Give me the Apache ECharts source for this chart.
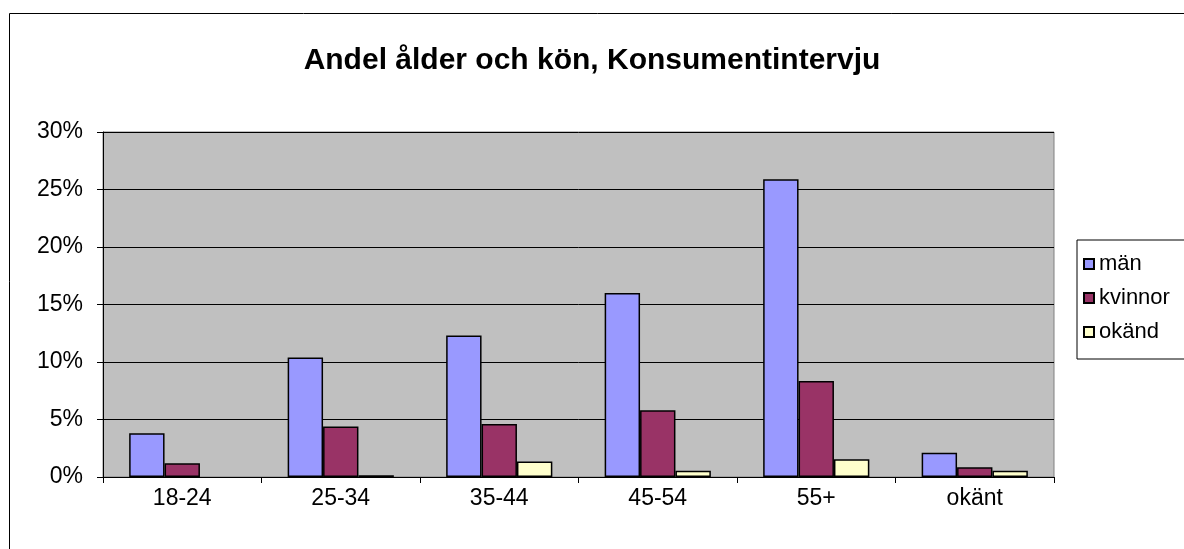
<!DOCTYPE html>
<html>
<head>
<meta charset="utf-8">
<script src="https://cdn.jsdelivr.net/npm/echarts@6/dist/echarts.min.js"></script>
<style>
  html, body { margin: 0; padding: 0; background: #fff; }
  #main { width: 1184px; height: 549px; }
</style>
</head>
<body>
<div id="main"></div>
<script>
var categories = ['18-24', '25-34', '35-44', '45-54', '55+', 'okänt'];
var man = [3.8, 10.4, 12.3, 16.0, 25.9, 2.1];
var kvinnor = [1.2, 4.4, 4.6, 5.8, 8.35, 0.85];
var okand = [0, 0.15, 1.35, 0.55, 1.55, 0.55];
var seriesNames = ['män', 'kvinnor', 'okänd'];

var chart = echarts.init(document.getElementById('main'));

function bar(name, data, color) {
  return {
    name: name,
    type: 'bar',
    // a zero value draws no bar at all in the original
    data: data.map(function (v) { return v === 0 ? '-' : v; }),
    barGap: '0%',
    barCategoryGap: '33%',
    itemStyle: { color: color, borderColor: '#000', borderWidth: 1.5 },
    emphasis: { disabled: true }
  };
}

var option = {
  animation: false,
  textStyle: { fontFamily: 'Liberation Sans, Arial, sans-serif' },
  title: {
    text: 'Andel ålder och kön, Konsumentintervju',
    left: 'center',
    top: 41,
    textStyle: { fontSize: 30, fontWeight: 'bold', color: '#000' }
  },
  graphic: [{
    type: 'rect',
    shape: { x: 9.5, y: 13.5, width: 1400, height: 800 },
    style: { fill: null, stroke: '#000', lineWidth: 1 },
    silent: true
  }],
  legend: {
    orient: 'vertical',
    left: 1077,
    top: 240,
    width: 200,
    padding: [13, 40, 16, 6],
    itemGap: 12,
    itemWidth: 10,
    itemHeight: 10,
    borderColor: '#000',
    borderWidth: 1,
    icon: 'rect',
    data: seriesNames,
    textStyle: { fontSize: 22, color: '#000', padding: [0, 0, 0, 0] },
    selectedMode: false
  },
  grid: {
    left: 103,
    top: 132,
    right: 130,
    bottom: 72,
    show: true,
    backgroundColor: '#c0c0c0',
    borderColor: '#808080',
    borderWidth: 1
  },
  xAxis: {
    type: 'category',
    data: categories,
    axisLine: { lineStyle: { color: '#000', width: 1 } },
    axisTick: { show: true, length: 6, lineStyle: { color: '#000' } },
    axisLabel: { fontSize: 23, color: '#000', margin: 10 }
  },
  yAxis: {
    type: 'value',
    min: 0,
    max: 30,
    interval: 5,
    axisLine: { show: true, lineStyle: { color: '#000', width: 1 } },
    axisTick: { show: true, length: 6, lineStyle: { color: '#000' } },
    axisLabel: { fontSize: 23, color: '#000', margin: 20, formatter: '{value}%' },
    splitLine: { lineStyle: { color: '#000', width: 1 } }
  },
  series: [
    bar('män', man, '#9999ff'),
    bar('kvinnor', kvinnor, '#993366'),
    bar('okänd', okand, '#ffffcc')
  ]
};

chart.setOption(option);
</script>
</body>
</html>
